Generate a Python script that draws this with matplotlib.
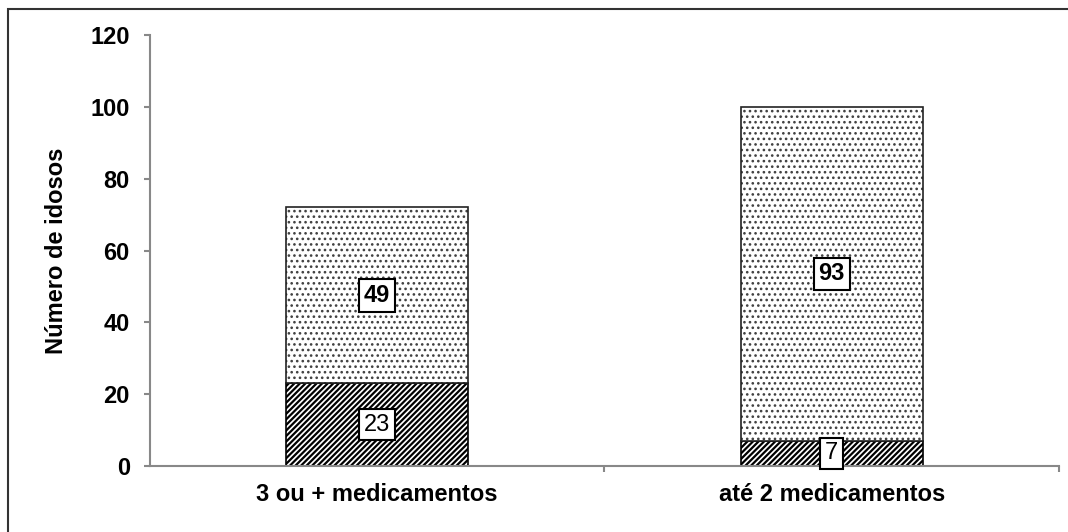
import matplotlib.pyplot as plt
import numpy as np
from matplotlib.patches import Rectangle

plt.rcParams['font.family'] = ['Liberation Sans', 'DejaVu Sans']
plt.rcParams['hatch.linewidth'] = 1.6

categorias = ['3 ou + medicamentos', 'até 2 medicamentos']
inferior = np.array([23, 7])
superior = np.array([49, 93])

fig = plt.figure(figsize=(10.68, 5.32), dpi=100)
ax = fig.add_axes([0.1404, 0.124, 0.8512, 0.810])

# moldura externa da figura
fig.patches.append(Rectangle((0.0075, -0.05), 1.2, 1.033, transform=fig.transFigure,
                             fill=False, edgecolor='#333333', linewidth=1.5))

x = np.arange(len(categorias))
b1 = ax.bar(x, inferior, width=0.4, color='white', edgecolor='black',
            hatch='//////', linewidth=1.2)
b2 = ax.bar(x, superior, width=0.4, bottom=inferior, color='white',
            edgecolor='#222222', hatch='...', linewidth=1.2)
for p in b2:
    p._hatch_color = (0.25, 0.25, 0.25, 1.0)
    if hasattr(p, 'set_hatch_linewidth'):
        p.set_hatch_linewidth(1.1)

caixa = dict(boxstyle='square,pad=0.2', facecolor='white',
             edgecolor='black', linewidth=1.5)
for xi, v in zip(x, inferior):
    ax.text(xi, v / 2, str(v), ha='center', va='center', fontsize=17, bbox=caixa)
for xi, b, v in zip(x, inferior, superior):
    ax.text(xi, b + v / 2, str(v), ha='center', va='center', fontsize=17,
            fontweight='bold', bbox=caixa)

ax.set_xlim(-0.5, 1.5)
ax.set_ylim(0, 120)
ax.set_yticks(np.arange(0, 121, 20))
ax.set_xticks(x)
ax.set_xticklabels(categorias, fontsize=17, fontweight='bold')
ax.set_xticks([0.5, 1.5], minor=True)
ax.tick_params(axis='x', which='major', length=0, pad=12)
ax.tick_params(axis='x', which='minor', length=4.5, width=1.5, color='#888888')
ax.tick_params(axis='y', length=4.5, width=1.5, color='#888888', labelsize=17, pad=10)
for lbl in ax.get_yticklabels():
    lbl.set_fontweight('bold')
ax.set_ylabel('Número de idosos', fontsize=17, fontweight='bold', labelpad=16)

for s in ['top', 'right']:
    ax.spines[s].set_visible(False)
for s in ['left', 'bottom']:
    ax.spines[s].set_color('#888888')
    ax.spines[s].set_linewidth(1.5)

fig.savefig('out.png', dpi=100)
